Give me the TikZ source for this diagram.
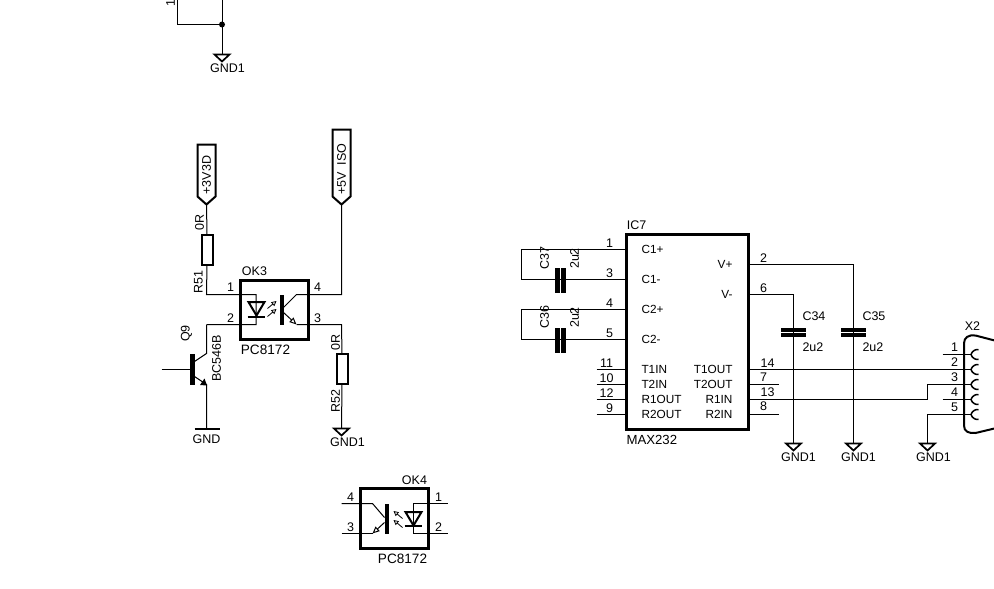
\documentclass[tikz,border=0pt]{standalone}
\usepackage{fontspec}
\setmainfont{Liberation Sans}
\usetikzlibrary{arrows.meta}
\tikzset{
  wire/.style={line width=1pt,black},
  mid/.style={line width=2pt,black},
  txt/.style={inner sep=0pt,outer sep=0pt,font=\fontsize{12.5}{14}\selectfont,text=black},
  ictxt/.style={txt,font=\fontsize{11.8}{14}\selectfont},
  partbox/.style={draw=black,line width=3pt,fill=none,inner sep=0pt,outer sep=0pt},
  resbox/.style={draw=black,line width=2pt,fill=none,inner sep=0pt,outer sep=0pt,minimum width=11pt,minimum height=30pt},
  bar/.style={fill=black,inner sep=0pt,outer sep=0pt},
  lightarrow/.style={line width=.8pt,-{Triangle[open,length=5pt,width=5pt]}},
  emitarrow/.style={line width=1pt,-{Triangle[open,length=7pt,width=6pt]}},
  gndone/.pic={\draw[line width=1.7pt,line join=miter] (-7.5,0)--(7.5,0)--(0,7)--cycle;},
  flagshape/.style={line width=2pt,line join=miter,fill=white}
}
\begin{document}
\begin{tikzpicture}[x=1pt,y=-1pt]
\path[use as bounding box,fill=white] (0,0) rectangle (994,589);
\clip (0,0) rectangle (994,589);
\begin{scope}[xshift=.5pt,yshift=-.5pt]

% ---- top fragment
\coordinate (topa) at (177,-2);
\coordinate (topb) at (177,24);
\coordinate (topj) at (221.5,24);
\coordinate (topc) at (221.5,-2);
\coordinate (g0) at (221.5,54);
\draw[wire] (topa) -- (topb) -- (topj) -- (topc);
\draw[wire] (topj) -- (g0);
\fill (topj) circle (3pt);
\pic at (g0) {gndone};
\node[txt,rotate=90] (t1) at (170,3) {1};
\node[txt] (gl0) at (227,68) {GND1};

% ---- flags
\coordinate (f3) at (206,204);
\coordinate (f5) at (341,204);
\draw[flagshape] (f3) -- (197,196) -- (197,144) -- (215,144) -- (215,196) -- cycle;
\draw[flagshape] (f5) -- (332,196) -- (332,129) -- (350,129) -- (350,196) -- cycle;
\node[txt,rotate=90,anchor=west] (fl3) at (206,194) {+3V3D};
\node[txt,rotate=90,anchor=west] (fl5) at (341,194) {+5V\hspace{6.5pt}ISO};

% ---- OK3
\node[partbox,minimum width=68pt,minimum height=59pt] (OK3) at (274,309.5) {};
\node[resbox] (R51) at (206.5,249) {};
\node[resbox] (R52) at (341.5,368.5) {};
\coordinate (c294) at (206,294);
\coordinate (led3a) at (255.5,294);
\coordinate (led3b) at (255.5,324);
\coordinate (q9c) at (206,324);
\coordinate (q3c) at (296,294);
\coordinate (q3e) at (296,324);
\coordinate (j4) at (341,294);
\coordinate (j3) at (341,324);
\coordinate (g1) at (341,428);
\draw[wire] (f3) -- (R51.north);
\draw[wire] (R51.south) -- (c294) -- (led3a) -- (led3b) -- (q9c);
\draw[wire] (f5) -- (j4) -- (q3c) -- (283,307);
\draw[emitarrow] (283,312) -- (q3e);
\draw[wire] (q3e) -- (j3) -- (R52.north);
\draw[wire] (R52.south) -- (g1);
\pic at (g1) {gndone};
\draw[mid] (248,301.5) -- (264,301.5) -- (256,315) -- cycle;
\draw[mid] (247,316) -- (264,316);
\node[bar,minimum width=4pt,minimum height=30pt] (b3) at (281,309) {};
\draw[lightarrow] (267,308) -- (276,300.5);
\draw[lightarrow] (267,316) -- (276,308.5);

\node[txt] (l0) at (254,271) {OK3};
\node[txt,font=\fontsize{13.6}{14}\selectfont] (l1) at (265,349) {PC8172};
\node[txt] (l2) at (230,287) {1};
\node[txt] (l3) at (230,318) {2};
\node[txt] (l4) at (317,287) {4};
\node[txt] (l5) at (317,318) {3};
\node[txt,rotate=90] (l6) at (199,222) {0R};
\node[txt,rotate=90] (l7) at (198,282) {R51};
\node[txt,rotate=90] (l8) at (335,342) {0R};
\node[txt,rotate=90] (l9) at (335,401) {R52};
\node[txt] (l10) at (347,442) {GND1};

% ---- Q9
\node[bar,minimum width=4.5pt,minimum height=31pt] (qb) at (192,369) {};
\coordinate (qb0) at (161,369);
\coordinate (qe) at (206,384);
\coordinate (g2) at (206,428);
\draw[wire] (qb0) -- (qb.west);
\draw[wire] (q9c) -- (206,353) -- (194,361);
\draw[wire] (194,376) -- (qe) -- (g2);
\fill (206.5,385) -- (199.5,384.5) -- (204,378) -- cycle;
\draw[line width=2pt] (194,428) -- (219,428);
\node[txt,rotate=90] (l11) at (186,333) {Q9};
\node[txt,rotate=90] (l12) at (216,358) {BC546B};
\node[txt] (l13) at (206,439) {GND};

% ---- OK4
\node[partbox,minimum width=68pt,minimum height=60pt] (OK4) at (394,518) {};
\coordinate (a4) at (341,503);
\coordinate (a3) at (341,533);
\coordinate (a1) at (447,503);
\coordinate (a2) at (447,533);
\draw[wire] (a4) -- (372,503) -- (384,517);
\draw[wire] (a3) -- (372,533);
\draw[emitarrow] (384,522) -- (372,533);
\draw[wire] (a1) -- (413,503) -- (413,533) -- (a2);
\draw[mid] (405,511.5) -- (421,511.5) -- (413,525) -- cycle;
\draw[mid] (404,525.5) -- (421,525.5);
\node[bar,minimum width=4.5pt,minimum height=30pt] (b4) at (386.5,518) {};
\draw[lightarrow] (402,518) -- (393,510.5);
\draw[lightarrow] (402,527) -- (393,519.5);
\node[txt] (m0) at (414,480) {OK4};
\node[txt,font=\fontsize{13.6}{14}\selectfont] (m1) at (402,558) {PC8172};
\node[txt] (m2) at (350,497) {4};
\node[txt] (m3) at (350,527) {3};
\node[txt] (m4) at (438,497) {1};
\node[txt] (m5) at (438,527) {2};

% ---- IC7
\node[partbox,minimum width=122pt,minimum height=195pt] (IC7) at (687,331.5) {};
\node[txt] (n0) at (636,225) {IC7};
\node[txt,font=\fontsize{13.2}{14}\selectfont,anchor=west] (n1) at (626,439) {MAX232};
% left pins
\coordinate (p1) at (626,249);
\coordinate (p3) at (626,279);
\coordinate (p4) at (626,309);
\coordinate (p5) at (626,339);
\coordinate (c1a) at (521,249);
\coordinate (c1b) at (521,279);
\coordinate (c2a) at (521,309);
\coordinate (c2b) at (521,339);
\draw[wire] (p1) -- (c1a) -- (c1b) -- (p3);
\draw[wire] (p4) -- (c2a) -- (c2b) -- (p5);
\node[bar,minimum width=5pt,minimum height=25pt] (c37a) at (556.5,279.5) {};
\node[bar,minimum width=5pt,minimum height=25pt] (c37b) at (562.5,279.5) {};
\node[bar,minimum width=5pt,minimum height=25pt] (c36a) at (556.5,339.5) {};
\node[bar,minimum width=5pt,minimum height=25pt] (c36b) at (562.5,339.5) {};
\node[txt,rotate=90] (n2) at (544,258) {C37};
\node[txt,rotate=90] (n3) at (574,258) {2u2};
\node[txt,rotate=90] (n4) at (544,317) {C36};
\node[txt,rotate=90] (n5) at (574,317) {2u2};
\foreach \yy/\num/\xn in {249/1/609,279/3/609,309/4/609,339/5/609,369/11/606,384/10/606,399/12/606,414/9/609}{
  \node[txt] at (\xn,\yy-6.5) {\num};
}
\foreach \yy in {369,384,399,414}{
  \draw[wire] (596,\yy) -- (626,\yy);
}
\foreach \yy/\lab in {248.5/C1+,279/C1-,308.5/C2+,339/C2-,369/T1IN,384/T2IN,399/R1OUT,414/R2OUT}{
  \node[ictxt,anchor=west] at (641,\yy) {\lab};
}
\foreach \yy/\lab in {263.5/V+,294/V-,369/T1OUT,384/T2OUT,399/R1IN,414/R2IN}{
  \node[ictxt,anchor=east] at (732,\yy) {\lab};
}
% right pins
\coordinate (r2) at (748,264);
\coordinate (r6) at (748,294);
\coordinate (r14) at (748,369);
\coordinate (r7) at (748,384);
\coordinate (r13) at (748,399);
\coordinate (r8) at (748,414);
\coordinate (k35) at (853,264);
\coordinate (k34) at (793,294);
\coordinate (g3) at (793,443);
\coordinate (g4) at (853,443);
\coordinate (g5) at (927,443);
\coordinate (x2p) at (971,369);
\coordinate (x3p) at (971,384);
\coordinate (x5p) at (971,414);
\draw[wire] (r2) -- (k35) -- (g4);
\draw[wire] (r6) -- (k34) -- (g3);
\draw[wire] (r14) -- (x2p);
\draw[wire] (r7) -- (778,384);
\draw[wire] (r13) -- (927,399) -- (927,384) -- (x3p);
\draw[wire] (r8) -- (778,414);
\draw[wire] (g5) -- (927,414) -- (x5p);
\draw[wire] (942,354) -- (971,354);
\draw[wire] (942,399) -- (971,399);
\pic at (g3) {gndone};
\pic at (g4) {gndone};
\pic at (g5) {gndone};
\node[bar,minimum width=25pt,minimum height=4pt] (c34a) at (792.5,329) {};
\node[bar,minimum width=25pt,minimum height=4pt] (c34b) at (792.5,334.5) {};
\node[bar,minimum width=25pt,minimum height=4pt] (c35a) at (852.5,329) {};
\node[bar,minimum width=25pt,minimum height=4pt] (c35b) at (852.5,334.5) {};
\node[txt,anchor=west] (n6) at (802,316) {C34};
\node[txt,anchor=west] (n7) at (802,347) {2u2};
\node[txt,anchor=west] (n8) at (862,316) {C35};
\node[txt,anchor=west] (n9) at (862,347) {2u2};
\foreach \yy/\num/\xn in {258/2/763,288/6/763,363/14/767,377/7/763,392/13/767,406/8/763}{
  \node[txt] at (\xn,\yy) {\num};
}
\node[txt] (n10) at (798,457) {GND1};
\node[txt] (n11) at (858,457) {GND1};
\node[txt] (n12) at (933,457) {GND1};

% ---- X2
\draw[line width=2pt,line cap=round] (996,340.5) -- (975,335) .. controls (968,334) and (963.5,337) .. (963.5,343) -- (963.5,425) .. controls (963.5,431) and (968,433) .. (975,432.5) -- (996,427.5);
\foreach \yy/\num in {354/1,369/2,384/3,399/4,414/5}{
  \draw[line width=1.5pt] (978,\yy-5) .. controls (971,\yy-5) and (971,\yy) .. (970.5,\yy) .. controls (971,\yy) and (971,\yy+5) .. (978,\yy+5);
  \node[txt] at (954,\yy-7) {\num};
}
\node[txt] (n13) at (972,326) {X2};
\end{scope}
\end{tikzpicture}
\end{document}
